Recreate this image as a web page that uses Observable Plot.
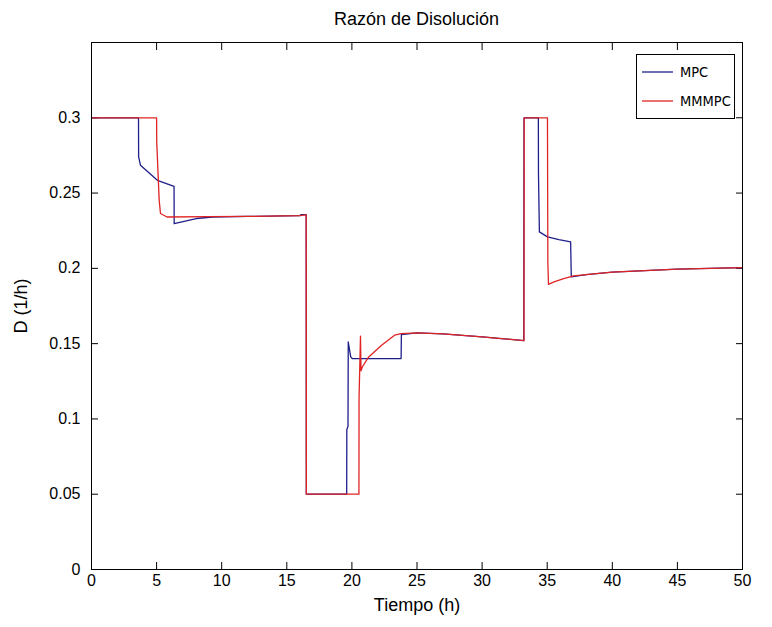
<!DOCTYPE html>
<html>
<head>
<meta charset="utf-8">
<script src="https://cdn.jsdelivr.net/npm/d3@7"></script>
<script src="https://cdn.jsdelivr.net/npm/@observablehq/plot@0.6"></script>
<style>
  body { margin: 0; background: #fff; }
  #wrap { position: relative; width: 772px; height: 627px; font-family: "Liberation Sans", Arial, sans-serif; color: #000; }
  #title { height: 30px; box-sizing: border-box; padding: 9px 30px 0 91px; text-align: center; font-size: 18px; line-height: 20px; }
  #legend { position: absolute; left: 636px; top: 54px; width: 99px; height: 65px; box-sizing: border-box; border: 1px solid #000; background: #fff;
    font-family: "Liberation Sans Narrow", "DejaVu Sans Condensed", "Arial Narrow", sans-serif; font-size: 14.5px; }
  #legend .row { position: absolute; left: 5px; display: flex; align-items: center; height: 20px; }
  #legend .row svg { display: block; }
  #legend .row span { margin-left: 7px; }
  svg text { font-family: "Liberation Sans", Arial, sans-serif; }
</style>
</head>
<body>
<div id="wrap">
  <div id="title">Razón de Disolución</div>
  <div id="chart"></div>
  <div id="legend"></div>
</div>
<script>
// ---- data ----
const seriesNames = ["MPC", "MMMPC"];
const seriesColors = ["#1f1f8a", "#e02424"];

const mpcTime = [0, 3.61, 3.62, 3.76, 5.06, 6.34, 6.35, 8.05, 9.3, 12, 16.0, 16.1, 16.49, 16.5,
  19.6, 19.61, 19.7, 19.72, 19.91, 20.04, 23.78, 23.8, 25, 27, 30, 33.2, 33.22,
  34.32, 34.33, 34.4, 35.02, 35.9, 36.8, 36.85, 38, 40, 45, 50];
const mpcValue = [0.3, 0.3, 0.274, 0.2685, 0.2585, 0.2545, 0.2297, 0.2331, 0.2341, 0.2345, 0.235, 0.2357, 0.2357, 0.05,
  0.05, 0.093, 0.095, 0.1511, 0.1412, 0.14, 0.1401, 0.156, 0.1572, 0.1565, 0.1545, 0.152, 0.3,
  0.3, 0.263, 0.2242, 0.2209, 0.2191, 0.2176, 0.1943, 0.1958, 0.1975, 0.1995, 0.2005];

const mmmpcTime = [0, 5.0, 5.01, 5.2, 5.3, 5.8, 9, 12, 16, 16.49, 16.5, 20.54, 20.55, 20.66, 20.7, 20.8,
  21.29, 22.28, 23.28, 23.78, 25, 27, 30, 33.22, 33.23, 35.02, 35.05, 35.1, 35.52, 36.27, 37.02, 38.77, 40, 45, 50];
const mmmpcValue = [0.3, 0.3, 0.284, 0.245, 0.2364, 0.2341, 0.2343, 0.2345, 0.235, 0.2355, 0.05, 0.05, 0.1146, 0.155, 0.132, 0.1345,
  0.1412, 0.1489, 0.1556, 0.1567, 0.1572, 0.1565, 0.1545, 0.152, 0.3, 0.3, 0.204, 0.1894, 0.191, 0.1932, 0.195, 0.1965, 0.1975, 0.1995, 0.2005];

const xTicks = [0, 5, 10, 15, 20, 25, 30, 35, 40, 45, 50];
const yTicks = [0, 0.05, 0.1, 0.15, 0.2, 0.25, 0.3];
const yTickLabels = ["0", "0.05", "0.1", "0.15", "0.2", "0.25", "0.3"];
const yTicksAll = [0, 0.05, 0.1, 0.15, 0.2, 0.25, 0.3, 0.35];

// ---- tables ----
const mpc = mpcTime.map((t, i) => ({t, v: mpcValue[i]}));
const mmmpc = mmmpcTime.map((t, i) => ({t, v: mmmpcValue[i]}));

const chart = Plot.plot({
  width: 772,
  height: 597,
  marginTop: 12,
  marginBottom: 58,
  marginLeft: 91,
  marginRight: 30,
  style: {background: "#fff", fontSize: "16px", fontFamily: "Liberation Sans, Arial, sans-serif", color: "#000"},
  x: {domain: [0, 50]},
  y: {domain: [0, 0.35]},
  marks: [
    Plot.axisX(xTicks, {anchor: "bottom", tickSize: -7, tickPadding: 12, tickFormat: d => String(d), fontSize: 16,
      label: null}),
    Plot.axisX(xTicks, {anchor: "top", tickSize: -7, tickFormat: () => "", label: null}),
    Plot.axisY(yTicks, {anchor: "left", tickSize: -7, tickPadding: 18, tickFormat: (d, i) => yTickLabels[i], fontSize: 16,
      label: null}),
    Plot.axisY(yTicksAll, {anchor: "right", tickSize: -7, tickFormat: () => "", label: null}),
    Plot.axisX({anchor: "bottom", ticks: [], tickSize: 0, label: "Tiempo (h)", labelAnchor: "center", labelArrow: "none", labelOffset: 41, fontSize: 18}),
    Plot.axisY({anchor: "left", ticks: [], tickSize: 0, label: "D (1/h)", labelAnchor: "center", labelArrow: "none", labelOffset: 77, fontSize: 18}),
    Plot.line(mpc, {x: "t", y: "v", stroke: seriesColors[0], strokeWidth: 1.3}),
    Plot.line(mmmpc, {x: "t", y: "v", stroke: seriesColors[1], strokeWidth: 1.3}),
    Plot.frame({stroke: "#000", strokeWidth: 1})
  ]
});
document.getElementById("chart").appendChild(chart);

// ---- legend ----
const legend = document.getElementById("legend");
seriesNames.forEach((name, i) => {
  const row = document.createElement("div");
  row.className = "row";
  row.style.top = (i === 0 ? 7 : 36) + "px";
  row.innerHTML = `<svg width="31" height="20"><line x1="0" x2="31" y1="10" y2="10" stroke="${seriesColors[i]}" stroke-width="1.3"/></svg><span>${name}</span>`;
  legend.appendChild(row);
});
</script>
</body>
</html>
